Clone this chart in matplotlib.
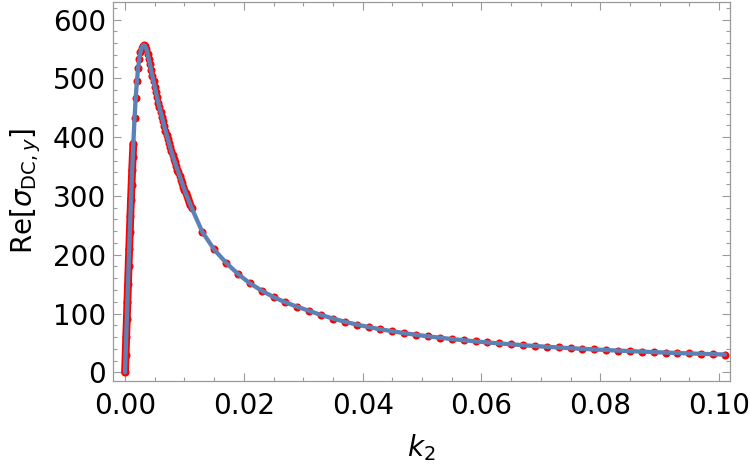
import numpy as np
import matplotlib.pyplot as plt
from matplotlib.ticker import MultipleLocator

# rising part (dense sampling, looks like a solid red line)
k2_rise = [0.0, 0.0001, 0.0002, 0.0003, 0.0004, 0.0005, 0.0006, 0.0007,
           0.0008, 0.0009, 0.0010, 0.0011, 0.0012, 0.0013, 0.0014]
sig_rise = [0, 30, 60, 90, 120, 150, 180, 209, 238, 266, 293, 319, 344, 367, 389]

# approach to the peak
k2_top = [0.0016, 0.0018, 0.0020, 0.0022, 0.0024, 0.0026, 0.0028, 0.0030]
sig_top = [432, 467, 495, 517, 533, 545, 552, 556]

# falling part after the peak (dense)
k2_fall = [0.0032, 0.0034, 0.0036, 0.0038, 0.0040, 0.0042, 0.0044, 0.0046,
           0.0048, 0.0050, 0.0052, 0.0054, 0.0056, 0.0058, 0.0060, 0.0062,
           0.0064, 0.0066, 0.0068, 0.0070, 0.0072, 0.0074, 0.0076, 0.0078,
           0.0080, 0.0082, 0.0084, 0.0086, 0.0088, 0.0090, 0.0092, 0.0094,
           0.0096, 0.0098, 0.0100, 0.0102, 0.0104, 0.0106, 0.0108, 0.0110,
           0.0112]
sig_fall = [557, 555, 550, 542, 533, 524, 514, 504,
            495, 486, 477, 468, 459, 451, 443, 435,
            427, 419, 411, 404, 397, 390, 383, 376,
            369, 363, 357, 351, 345, 340, 334, 328,
            322, 316, 311, 305, 300, 295, 290, 285,
            280]

# tail (sparse sampling)
k2_tail = [0.013, 0.015, 0.017, 0.019, 0.021, 0.023, 0.025, 0.027, 0.029,
           0.031, 0.033, 0.035, 0.037, 0.039, 0.041, 0.043, 0.045, 0.047,
           0.049, 0.051, 0.053, 0.055, 0.057, 0.059, 0.061, 0.063, 0.065,
           0.067, 0.069, 0.071, 0.073, 0.075, 0.077, 0.079, 0.081, 0.083,
           0.085, 0.087, 0.089, 0.091, 0.093, 0.095, 0.097, 0.099, 0.101]
sig_tail = [239, 209, 186.5, 167.5, 151.5, 139, 128, 119, 111.5,
            104.5, 97.5, 91.5, 86, 81.2, 77, 73.2, 69.8, 66.6,
            63.8, 61.2, 58.8, 56.6, 54.5, 52.6, 50.8, 49.1, 47.6,
            46.1, 44.7, 43.4, 42.2, 41.0, 39.9, 38.9, 37.9, 36.9,
            36.0, 35.2, 34.3, 33.6, 32.8, 32.1, 31.4, 30.8, 30.2]

k2_all = k2_rise + k2_top + k2_fall + k2_tail
sig_all = sig_rise + sig_top + sig_fall + sig_tail

red = '#ff0000'
blue = '#5e81b5'
frame = '#9a9a9a'

fig = plt.figure(figsize=(7.5, 4.67), dpi=100)
ax = fig.add_axes([0.1507, 0.1848, 0.8227, 0.8109])

# red numerical points
ax.plot(k2_rise, sig_rise, color=red, lw=5.6, solid_capstyle='round', zorder=2)
ax.plot(k2_all, sig_all, 'o', color=red, ms=5.8, mew=0, zorder=2)
# blue curve on top
ax.plot(k2_all, sig_all, color=blue, lw=3.1, solid_capstyle='round', zorder=3)

ax.set_xlim(-0.00202, 0.10185)
ax.set_ylim(-14.3, 630)

ax.xaxis.set_major_locator(MultipleLocator(0.02))
ax.xaxis.set_minor_locator(MultipleLocator(0.005))
ax.yaxis.set_major_locator(MultipleLocator(100))
ax.yaxis.set_minor_locator(MultipleLocator(20))
ax.xaxis.set_major_formatter(plt.FuncFormatter(lambda v, p: '%.2f' % v))

ax.tick_params(which='both', direction='in', top=True, right=True,
               color=frame, width=0.8, labelsize=20, labelcolor='black')
ax.tick_params(which='major', length=6)
ax.tick_params(which='minor', length=3)
ax.tick_params(axis='x', pad=8)
ax.tick_params(axis='y', pad=5)
for s in ax.spines.values():
    s.set_color(frame)
    s.set_linewidth(0.9)

ax.set_xlabel(r'$k_2$', fontsize=20, labelpad=9)
ax.set_ylabel(r'Re$[\sigma_{\mathrm{DC},y}]$', fontsize=20, labelpad=7)

fig.savefig('out.png', dpi=100)
